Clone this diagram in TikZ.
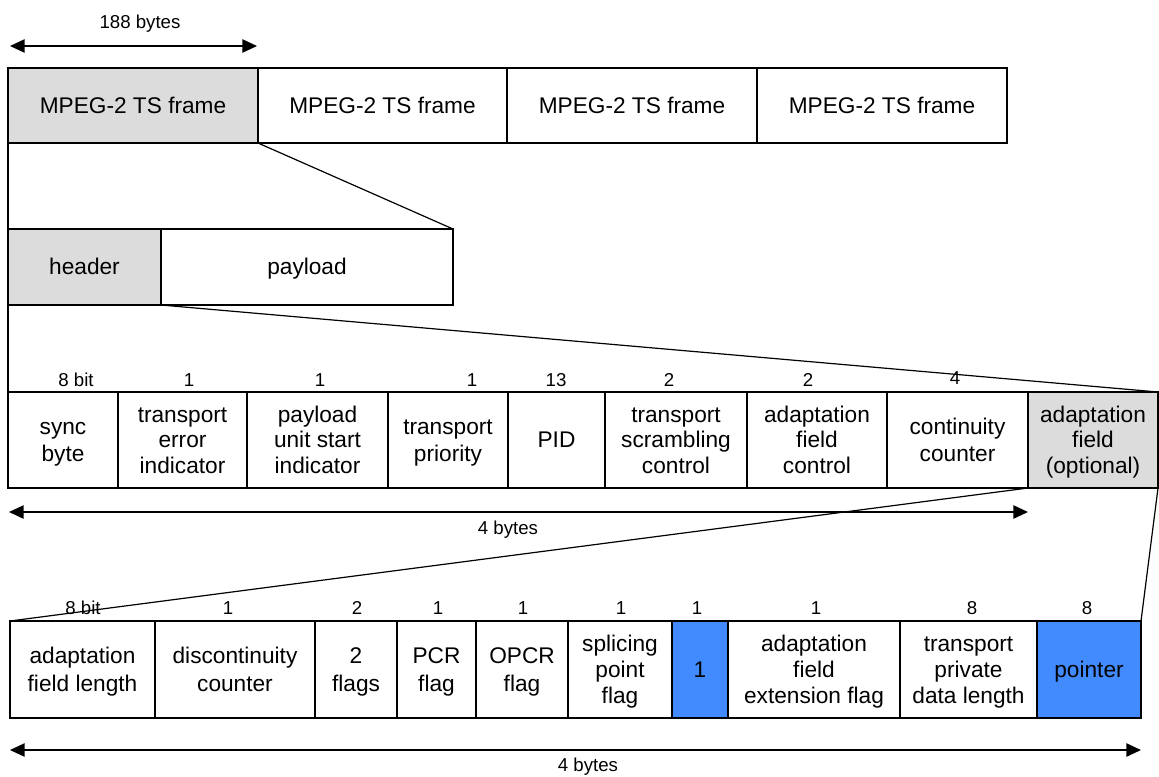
\documentclass[tikz,border=0pt]{standalone}
\usepackage{fontspec}
\setmainfont{Liberation Sans}
\usetikzlibrary{arrows.meta}
\definecolor{hdrgray}{RGB}{220,220,220}
\definecolor{fieldblue}{RGB}{66,139,255}

% strut whose middle sits at the middle of the capitals
\newcommand{\cellstrut}{\rule[-3.8pt]{0pt}{19.5pt}}

% \cell{style}{name}{x left}{x right}{y top}{y bottom}{text}
\newcommand{\cell}[7]{%
  \node[#1, minimum width={(#4-#3)*0.75pt}, minimum height={(#6-#5)*0.75pt}]
    (#2) at ({(#3+#4)/2},{(#5+#6)/2}) {\cellstrut #7\cellstrut};}

\begin{document}
\begin{tikzpicture}[x=0.75pt,y=-0.75pt,
  cellbox/.style={draw=black, line width=0.9pt, inner sep=0pt, outer sep=0pt,
    align=center, font=\fontsize{17}{19.3}\selectfont},
  shaded/.style={cellbox, fill=hdrgray},
  marked/.style={cellbox, fill=fieldblue},
  bitlabel/.style={font=\fontsize{14}{16}\selectfont, inner sep=0pt},
  dimarrow/.style={line width=1.1pt,
    {Triangle[length=11pt,width=10pt]}-{Triangle[length=11pt,width=10pt]}},
  funnel/.style={line width=0.9pt}]

\useasboundingbox[fill=white] (0,0) rectangle (1159,776);

% transport stream: four frames
\cell{shaded}{f1}{8}{258}{68}{143}{MPEG-2 TS frame}
\cell{cellbox}{f2}{258}{507}{68}{143}{MPEG-2 TS frame}
\cell{cellbox}{f3}{507}{757}{68}{143}{MPEG-2 TS frame}
\cell{cellbox}{f4}{757}{1007}{68}{143}{MPEG-2 TS frame}

\coordinate (fa) at (10,46);
\coordinate (fb) at (257,46);
\draw[dimarrow] (fa) -- (fb);
\node[bitlabel] (flen) at (140,24) {188 bytes};

% one frame: header and payload
\cell{shaded}{hdr}{8}{161}{229}{305}{header}
\cell{cellbox}{pay}{161}{453}{229}{305}{payload}

% header fields
\cell{cellbox}{sync}{8}{118}{392}{488}{sync\\byte}
\cell{cellbox}{tei}{118}{247}{392}{488}{transport\\error\\indicator}
\cell{cellbox}{pusi}{247}{388}{392}{488}{payload\\unit start\\indicator}
\cell{cellbox}{tp}{388}{508}{392}{488}{transport\\priority}
\cell{cellbox}{pid}{508}{605}{392}{488}{PID}
\cell{cellbox}{tsc}{605}{747}{392}{488}{transport\\scrambling\\control}
\cell{cellbox}{afc}{747}{887}{392}{488}{adaptation\\field\\control}
\cell{cellbox}{cc}{887}{1028}{392}{488}{continuity\\counter}
\cell{shaded}{af}{1028}{1158}{392}{488}{adaptation\\field\\(optional)}

\node[bitlabel] (b1) at (76,380) {8 bit};
\node[bitlabel] (b2) at (189,380) {1};
\node[bitlabel] (b3) at (320,380) {1};
\node[bitlabel] (b4) at (472,380) {1};
\node[bitlabel] (b5) at (556,380) {13};
\node[bitlabel] (b6) at (669,380) {2};
\node[bitlabel] (b7) at (808,380) {2};
\node[bitlabel] (b8) at (955,378) {4};

\coordinate (ha) at (9,512);
\coordinate (hb) at (1028,512);
\draw[dimarrow] (ha) -- (hb);
\node[bitlabel] (hlen) at (508,530) {4 bytes};

% adaptation field contents
\cell{cellbox}{afl}{10}{155}{621}{718}{adaptation\\field length}
\cell{cellbox}{dc}{155}{315}{621}{718}{discontinuity\\counter}
\cell{cellbox}{tf}{315}{397}{621}{718}{2\\flags}
\cell{cellbox}{pcr}{397}{476}{621}{718}{PCR\\flag}
\cell{cellbox}{opcr}{476}{568}{621}{718}{OPCR\\flag}
\cell{cellbox}{spf}{568}{672}{621}{718}{splicing\\point\\flag}
\cell{marked}{one}{672}{728}{621}{718}{1}
\cell{cellbox}{afe}{728}{900}{621}{718}{adaptation\\field\\extension flag}
\cell{cellbox}{tpd}{900}{1037}{621}{718}{transport\\private\\data length}
\cell{marked}{ptr}{1037}{1141}{621}{718}{pointer}

\node[bitlabel] (c1) at (83,608) {8 bit};
\node[bitlabel] (c2) at (228,608) {1};
\node[bitlabel] (c3) at (357,608) {2};
\node[bitlabel] (c4) at (438,608) {1};
\node[bitlabel] (c5) at (523,608) {1};
\node[bitlabel] (c6) at (621,608) {1};
\node[bitlabel] (c7) at (697,608) {1};
\node[bitlabel] (c8) at (816,608) {1};
\node[bitlabel] (c9) at (972,608) {8};
\node[bitlabel] (c10) at (1087,608) {8};

\coordinate (aa) at (10,750);
\coordinate (ab) at (1141,750);
\draw[dimarrow] (aa) -- (ab);
\node[bitlabel] (alen) at (588,767) {4 bytes};

% expansion lines between levels
\draw[funnel] (f1.south west) -- (hdr.north west);
\draw[funnel] (f1.south east) -- (pay.north east);
\draw[funnel] (hdr.south west) -- (sync.north west);
\draw[funnel] (hdr.south east) -- (af.north east);
\draw[funnel] (af.south west) -- (afl.north west);
\draw[funnel] (af.south east) -- (ptr.north east);
\end{tikzpicture}
\end{document}
